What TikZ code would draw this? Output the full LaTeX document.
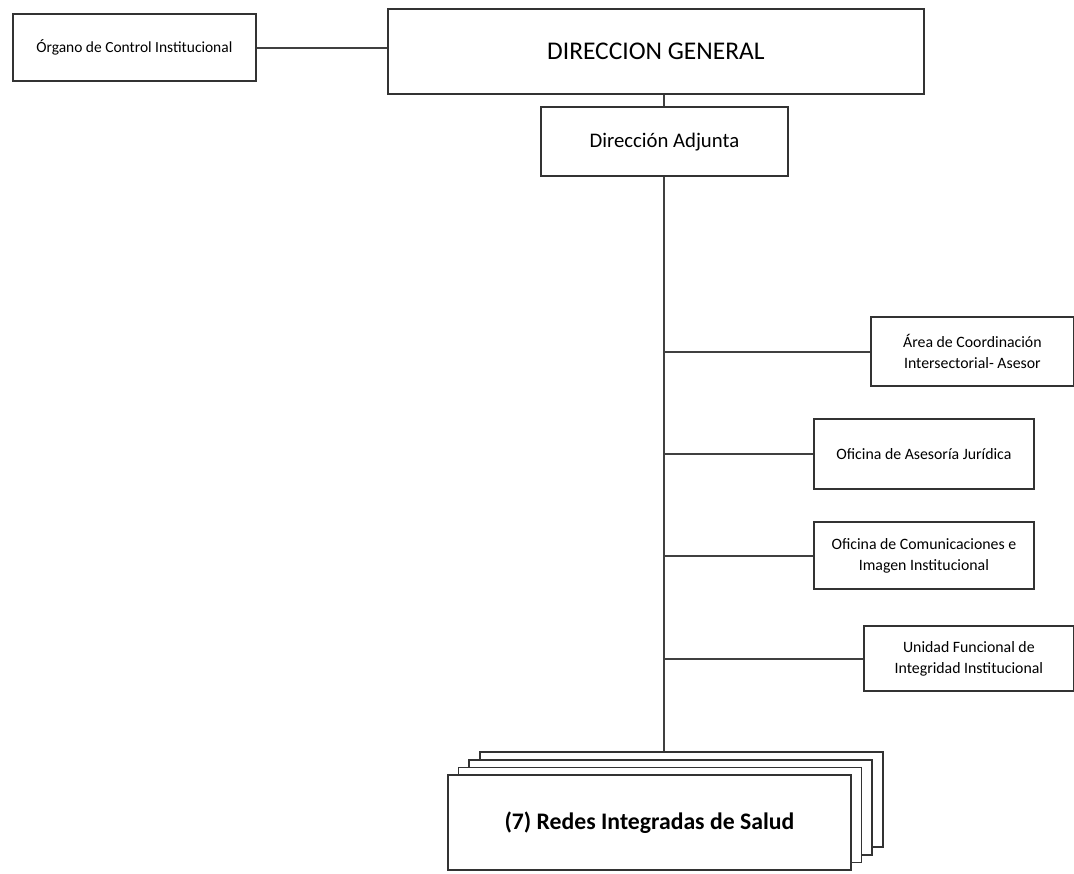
\documentclass[tikz,border=0pt]{standalone}
\usepackage{fontspec}
\setmainfont{Carlito}
\usepackage{tikz}
\usetikzlibrary{calc}
\usetikzlibrary{positioning}

\tikzset{
  unitbox/.style={rectangle, draw=black!80, line width=1pt, fill=white, align=center, anchor=south west, inner sep=2pt},
  link/.style={draw=black!75, line width=1.1pt}
}

\begin{document}
\begin{tikzpicture}

\useasboundingbox (0,0) rectangle (21.48,-17.46);

\node at (7.74,-1.9) [unitbox, minimum height = 1.7cm, minimum width = 10.72cm, font=\fontsize{14.5}{17}\selectfont] (dg) {DIRECCION GENERAL};
\node at (0.24,-1.64) [unitbox, minimum height = 1.34cm, minimum width = 4.86cm, font=\fontsize{8.8}{11}\selectfont] (oci) {Órgano de Control Institucional};
\node at (10.8,-3.54) [unitbox, minimum height = 1.38cm, minimum width = 4.94cm, font=\fontsize{11.8}{14}\selectfont] (adj) {Dirección Adjunta};

\node at (17.4,-7.74) [unitbox, minimum height = 1.38cm, minimum width = 4.06cm, font=\fontsize{9}{12}\selectfont] (aci) {Área de Coordinación\\ Intersectorial- Asesor};
\node at (16.26,-9.8) [unitbox, minimum height = 1.4cm, minimum width = 4.4cm, font=\fontsize{9}{12}\selectfont] (oaj) {Oficina de Asesoría Jurídica};
\node at (16.26,-11.8) [unitbox, minimum height = 1.34cm, minimum width = 4.4cm, font=\fontsize{9}{12}\selectfont] (oci2) {Oficina de Comunicaciones e\\ Imagen Institucional};
\node at (17.26,-13.84) [unitbox, minimum height = 1.3cm, minimum width = 4.2cm, font=\fontsize{9}{12}\selectfont] (ufi) {Unidad Funcional de\\ Integridad Institucional};

% pila de redes (de atras hacia adelante)
\node at (8.94+3*0.214,-17.42+3*0.155) [unitbox, minimum height = 1.9cm, minimum width = 8.06cm] (ris3) {};
\node at (8.94+2*0.214,-17.42+2*0.155) [unitbox, minimum height = 1.9cm, minimum width = 8.06cm] (ris2) {};
\node at (8.94+0.214,-17.42+0.155) [unitbox, minimum height = 1.9cm, minimum width = 8.06cm] (ris1) {};
\node at (8.94,-17.42) [unitbox, minimum height = 1.9cm, minimum width = 8.06cm, font=\fontsize{13.5}{16}\selectfont\bfseries] (ris0) {(7) Redes Integradas de Salud};

\draw [link] (oci.east) -- (oci.east -| dg.west);
\draw [link] (adj.north) -- (adj.north |- dg.south);
\draw [link] (adj.south) -- (adj.south |- ris3.north);

\draw [link] (adj.south |- aci.west) -- (aci.west);
\draw [link] (adj.south |- oaj.west) -- (oaj.west);
\draw [link] (adj.south |- oci2.west) -- (oci2.west);
\draw [link] (adj.south |- ufi.west) -- (ufi.west);

\end{tikzpicture}
\end{document}
